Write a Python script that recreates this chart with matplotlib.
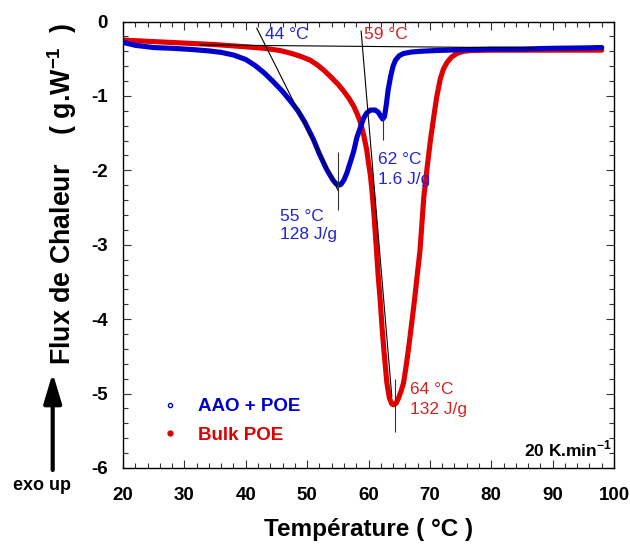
"""DSC melting curves: POE confined in AAO vs bulk POE (20 K/min)."""
import matplotlib

matplotlib.use("Agg")
import matplotlib.pyplot as plt
from matplotlib.lines import Line2D
from matplotlib.ticker import MultipleLocator

plt.rcParams["font.family"] = ["Liberation Sans", "DejaVu Sans"]
plt.rcParams["axes.unicode_minus"] = False
plt.rcParams["mathtext.fontset"] = "custom"
plt.rcParams["mathtext.rm"] = "Liberation Sans"
plt.rcParams["mathtext.bf"] = "Liberation Sans:bold"

# --- data -------------------------------------------------------------------
aao_T = [20, 22, 25, 28, 31, 34, 36, 38, 40, 41.5, 43, 44.5, 46, 47.3, 48.5,
         49.6, 51, 52, 53.2, 54.2, 54.7, 55.1, 55.5, 56.0, 56.5, 57, 57.6, 58.1,
         58.7, 59.2, 59.7, 60.3, 61.1, 61.6, 61.9, 62.3, 62.6, 62.9, 63.2, 63.6,
         64.0, 64.4, 65.0, 65.7, 67, 68.5, 71, 75, 80, 85, 90, 95, 98]
aao_flux = [-0.28, -0.32, -0.35, -0.36, -0.375, -0.395, -0.415, -0.45, -0.51,
            -0.59, -0.69, -0.81, -0.94, -1.07, -1.20, -1.35, -1.58, -1.78, -1.99,
            -2.13, -2.18, -2.20, -2.19, -2.13, -2.03, -1.90, -1.74, -1.56, -1.42,
            -1.30, -1.23, -1.19, -1.19, -1.22, -1.26, -1.31, -1.28, -1.12, -0.92,
            -0.74, -0.60, -0.52, -0.46, -0.43, -0.41, -0.40, -0.39, -0.38, -0.37,
            -0.37, -0.36, -0.355, -0.35]

bulk_T = [20, 25, 30, 35, 40, 43, 45.6, 47.5, 49, 50.5, 51.6, 52.8, 53.8, 55,
          55.9, 56.8, 57.6, 58.2, 58.7, 59.2, 59.7, 60.0, 60.3, 60.6, 60.9, 61.3,
          61.6, 61.9, 62.2, 62.5, 62.8, 63.0, 63.4, 63.8, 64.1, 64.5, 64.9, 65.3,
          65.7, 66.1, 66.5, 67.0, 67.5, 67.9, 68.4, 68.7, 69.0, 69.5, 70.1, 70.6,
          71.1, 71.7, 72.2, 72.8, 73.5, 74.4, 75.5, 76.6, 80, 85, 90, 95, 98]
bulk_flux = [-0.25, -0.27, -0.29, -0.31, -0.34, -0.36, -0.39, -0.43, -0.47, -0.52,
             -0.58, -0.66, -0.74, -0.84, -0.93, -1.03, -1.14, -1.25, -1.36, -1.52,
             -1.72, -1.90, -2.06, -2.30, -2.60, -3.07, -3.44, -3.74, -4.10, -4.41,
             -4.68, -4.86, -5.06, -5.14, -5.15, -5.13, -5.06, -4.97, -4.86, -4.65,
             -4.41, -4.08, -3.74, -3.44, -3.07, -2.72, -2.37, -2.00, -1.59, -1.30,
             -1.02, -0.77, -0.64, -0.55, -0.48, -0.43, -0.40, -0.39, -0.385, -0.385,
             -0.385, -0.385, -0.385]

# construction lines (onset tangents, baseline, peak markers)
baseline_T = [32.6, 87]
baseline_flux = [-0.315, -0.355]
tangent_aao_T = [41.8, 55.1]
tangent_aao_flux = [-0.09, -2.28]
tangent_bulk_T = [58.8, 63.8]
tangent_bulk_flux = [-0.13, -5.04]
peak_T = [55.0, 62.3, 64.3]
peak_top = [-1.76, -1.30, -4.81]
peak_bottom = [-2.53, -1.59, -5.51]

BLUE = "#0000CC"
RED = "#E00000"
TXT_BLUE = "#2424D8"
TXT_RED = "#D42222"

fig = plt.figure(figsize=(6.3, 5.45), dpi=100)
ax = fig.add_axes([123 / 630, 1 - 468 / 545, 491 / 630, 446.5 / 545])

ax.plot(bulk_T, bulk_flux, color=RED, lw=3.7, solid_capstyle="round",
        solid_joinstyle="round", zorder=2)
ax.plot(aao_T, aao_flux, color=BLUE, lw=3.7, solid_capstyle="round",
        solid_joinstyle="round", zorder=3)

ax.plot(baseline_T, baseline_flux, color="black", lw=0.8, zorder=4)
ax.plot(tangent_aao_T, tangent_aao_flux, color="black", lw=0.8, zorder=4)
ax.plot(tangent_bulk_T, tangent_bulk_flux, color="black", lw=0.8, zorder=4)
ax.vlines(peak_T, peak_bottom, peak_top, color="#333333", lw=0.8, zorder=4)

# annotations
ax.text(43.2, -0.18, "44 °C", color=TXT_BLUE, fontsize=12.5, va="center")
ax.text(59.2, -0.18, "59 °C", color=TXT_RED, fontsize=12.5, va="center")
ax.text(61.6, -1.99, "62 °C\n1.6 J/g", color=TXT_BLUE, fontsize=12.5,
        va="center", linespacing=1.4)
ax.text(45.6, -2.74, "55 °C\n128 J/g", color=TXT_BLUE, fontsize=12.5,
        va="center", linespacing=1.3)
ax.text(66.8, -5.08, "64 °C\n132 J/g", color=TXT_RED, fontsize=12.5,
        va="center", linespacing=1.35)
ax.text(0.996, 0.025, "20 K.min$^{\\mathbf{-1}}$", transform=ax.transAxes,
        ha="right", va="baseline", fontsize=12.5, fontweight="bold")

ax.set_xlim(20, 100)
ax.set_ylim(-6, 0)
ax.xaxis.set_major_locator(MultipleLocator(10))
ax.xaxis.set_minor_locator(MultipleLocator(2))
ax.yaxis.set_major_locator(MultipleLocator(1))
ax.yaxis.set_minor_locator(MultipleLocator(0.2))
ax.tick_params(which="both", direction="in", top=True, right=True,
               width=0.8, color="#333333")
ax.tick_params(which="major", length=6, labelsize=13.5)
ax.tick_params(axis="x", which="major", pad=14)
ax.tick_params(axis="y", which="major", pad=11)
ax.tick_params(which="minor", length=3.5)
for lab in ax.get_xticklabels() + ax.get_yticklabels():
    lab.set_fontweight("bold")
for sp in ax.spines.values():
    sp.set_linewidth(1.0)

ax.set_xlabel("Température ( °C )", fontsize=17.5, fontweight="bold", labelpad=10)
fig.text(62 / 630, 1 - 194 / 545,
         "Flux de Chaleur    ( g.W$^{\\mathbf{-1}}$  )",
         rotation=90, ha="center", va="center", fontsize=19.3, fontweight="bold")

# legend: marker only, coloured bold labels
handles = [
    Line2D([], [], ls="none", marker="o", ms=3, mfc="white", mec=BLUE, mew=1),
    Line2D([], [], ls="none", marker="o", ms=3.5, color=RED),
]
ax.legend(handles, ["AAO + POE", "Bulk POE"], loc="upper left",
          bbox_to_anchor=(0.077, 0.156), frameon=False, borderpad=0,
          borderaxespad=0, handlelength=1.0, handletextpad=1.0,
          labelspacing=0.6, labelcolor=[BLUE, RED],
          prop={"weight": "bold", "size": 13.5})

# "exo up" arrow
ax.annotate("", xy=(52.7, 545 - 373), xytext=(52.7, 545 - 470),
            xycoords="figure pixels", textcoords="figure pixels",
            arrowprops=dict(arrowstyle="-|>,head_length=1.0,head_width=0.3",
                            mutation_scale=18, lw=3, color="black",
                            shrinkA=0, shrinkB=0))
fig.text(42 / 630, 1 - 485 / 545, "exo up", ha="center", va="center",
         fontsize=13, fontweight="bold")

fig.savefig("out.png", dpi=100, facecolor="white")
